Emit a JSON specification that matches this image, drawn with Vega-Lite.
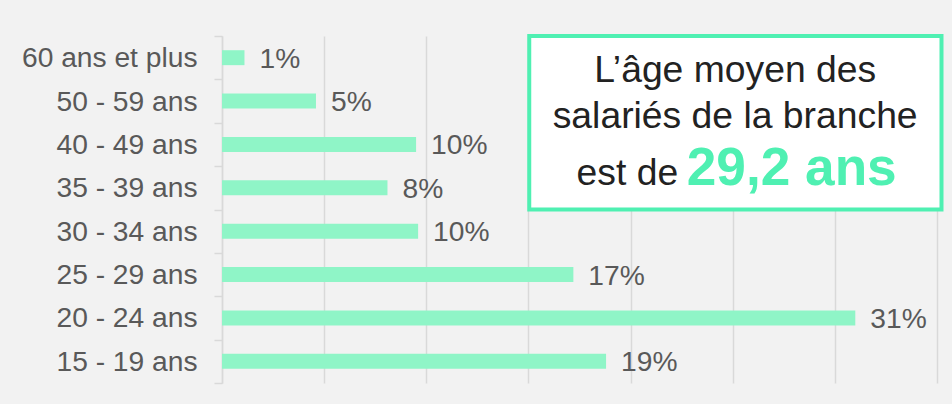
{
  "$schema": "https://vega.github.io/schema/vega-lite/v6.json",
  "width": 715,
  "height": 347,
  "autosize": {"type": "none"},
  "padding": {"left": 222, "top": 36, "right": 15, "bottom": 21},
  "background": "#f2f2f2",
  "config": {
    "view": {"stroke": null},
    "font": "Liberation Sans"
  },
  "resolve": {"scale": {"y": "independent"}, "axis": {"y": "independent"}},
  "layer": [
    {
      "data": {
        "values": [
          {"age": "60 ans et plus", "share": 0.011},
          {"age": "50 - 59 ans", "share": 0.046},
          {"age": "40 - 49 ans", "share": 0.095},
          {"age": "35 - 39 ans", "share": 0.081},
          {"age": "30 - 34 ans", "share": 0.096},
          {"age": "25 - 29 ans", "share": 0.172},
          {"age": "20 - 24 ans", "share": 0.31},
          {"age": "15 - 19 ans", "share": 0.188}
        ]
      },
      "encoding": {
        "y": {
          "field": "age",
          "type": "nominal",
          "sort": null,
          "scale": {"paddingInner": 0, "paddingOuter": 0},
          "axis": {
            "title": null,
            "labelFontSize": 28.2,
            "labelColor": "#595959",
            "labelPadding": 17,
            "labelFont": "Liberation Sans",
            "tickSize": 8,
            "tickColor": "#d9d9d9",
            "tickWidth": 1.5,
            "tickBand": "extent",
            "domainColor": "#d9d9d9",
            "domainWidth": 1.5,
            "grid": false,
            "labelOffset": 1
          }
        },
        "x": {
          "field": "share",
          "type": "quantitative",
          "scale": {"domain": [0, 0.35], "nice": false},
          "axis": {
            "title": null,
            "labels": false,
            "ticks": false,
            "domain": false,
            "grid": true,
            "gridColor": "#d9d9d9",
            "gridWidth": 1.5,
            "values": [0, 0.05, 0.1, 0.15, 0.2, 0.25, 0.3, 0.35]
          }
        }
      },
      "layer": [
        {"mark": {"type": "bar", "color": "#8ff5c7", "height": {"band": 0.345}}},
        {
          "mark": {
            "type": "text",
            "align": "left",
            "baseline": "middle",
            "dx": 15,
            "dy": 2,
            "fontSize": 28.2,
            "color": "#595959"
          },
          "encoding": {"text": {"field": "share", "type": "quantitative", "format": ".0%"}}
        }
      ]
    },
    {
      "layer": [
        {
          "data": {"values": [{"x1": 0.1504, "x2": 0.3522, "y1": 0, "y2": 4}]},
          "mark": {"type": "rect", "fill": "#ffffff", "stroke": "#4ff0b2", "strokeWidth": 4},
          "encoding": {
            "x": {"field": "x1", "type": "quantitative"},
            "x2": {"field": "x2"},
            "y": {"field": "y1", "type": "quantitative", "scale": {"domain": [0, 8], "reverse": true, "nice": false, "zero": false}, "axis": null},
            "y2": {"field": "y2"}
          }
        },
        {
          "data": {"values": [
            {"t": "L’âge moyen des", "x": 0.2512, "y": 1.054},
            {"t": "salariés de la branche", "x": 0.2512, "y": 2.128}
          ]},
          "mark": {"type": "text", "align": "center", "baseline": "alphabetic", "fontSize": 37.3, "color": "#222222"},
          "encoding": {
            "x": {"field": "x", "type": "quantitative"},
            "y": {"field": "y", "type": "quantitative", "scale": {"domain": [0, 8], "reverse": true, "nice": false, "zero": false}, "axis": null},
            "text": {"field": "t"}
          }
        },
        {
          "data": {"values": [{"t": "est de", "x": 0.2233, "y": 3.44}]},
          "mark": {"type": "text", "align": "right", "baseline": "alphabetic", "fontSize": 37.3, "color": "#222222"},
          "encoding": {
            "x": {"field": "x", "type": "quantitative"},
            "y": {"field": "y", "type": "quantitative", "scale": {"domain": [0, 8], "reverse": true, "nice": false, "zero": false}, "axis": null},
            "text": {"field": "t"}
          }
        },
        {
          "data": {"values": [{"t": "29,2 ans", "x": 0.2275, "y": 3.44}]},
          "mark": {"type": "text", "align": "left", "baseline": "alphabetic", "fontSize": 53.2, "fontWeight": "bold", "color": "#4ff0b2"},
          "encoding": {
            "x": {"field": "x", "type": "quantitative"},
            "y": {"field": "y", "type": "quantitative", "scale": {"domain": [0, 8], "reverse": true, "nice": false, "zero": false}, "axis": null},
            "text": {"field": "t"}
          }
        }
      ]
    }
  ]
}
